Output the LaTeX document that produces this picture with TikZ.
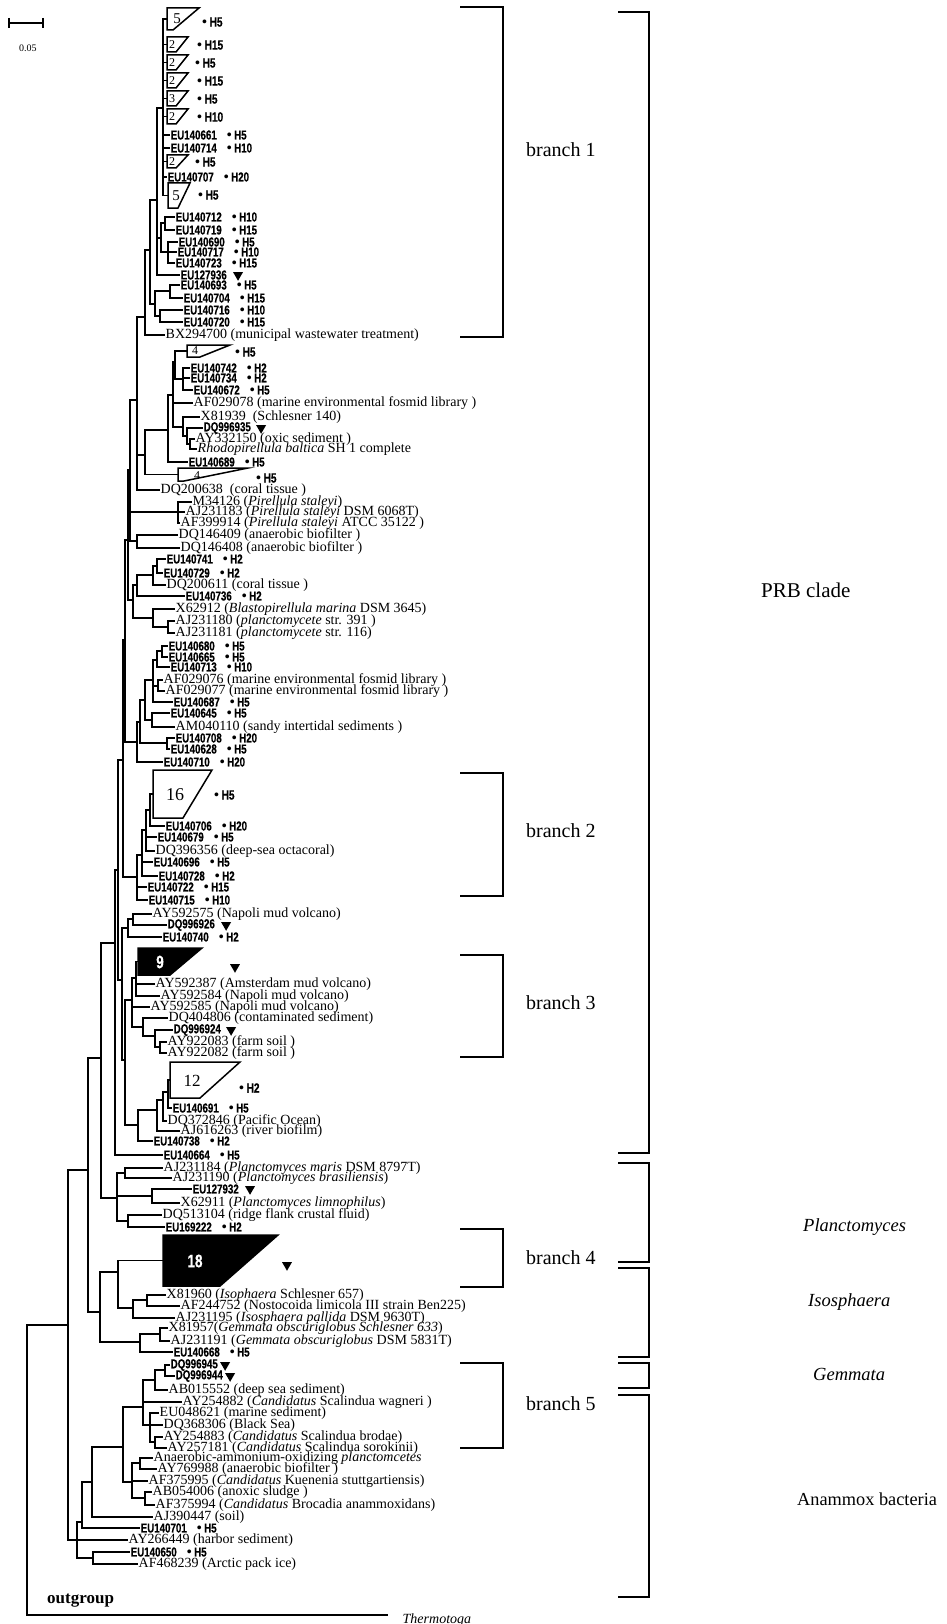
\documentclass[tikz,border=0pt]{standalone}
\usepackage{fontspec}
\setmainfont{Liberation Serif}
\newfontfamily\cnd{Liberation Sans}[FakeStretch=0.75,FakeBold=0.5]
\usetikzlibrary{positioning,shapes.geometric}

\newcommand{\hd}[1]{{\rmfamily\fontsize{14}{12}\selectfont\textbullet}\hspace{2.5pt}#1}
\newcommand{\hb}[1]{\hspace{10pt}\hd{#1}}
% collapsed clade: name, left x, top y, bottom y, top-right x, bottom-right x
\newcommand{\collapsed}[7][clade]{%
  \draw[#1] (#3,#4) -- (#6,#4) -- (#7,#5) -- (#3,#5) -- cycle;
  \coordinate (#2) at (#3,{(#4+#5)/2});}
\newcommand{\kids}[2]{\foreach \k in {#2} {\draw[br] (#1) |- (\k);}}

\begin{document}
\begin{tikzpicture}[
  x=1pt,y=-1pt,
  br/.style={line width=1.5pt},
  leaf/.style={anchor=west,inner sep=0.5pt,font=\fontsize{14}{12}\selectfont},
  eu/.style={anchor=west,inner sep=0.5pt,font=\cnd\bfseries\fontsize{13}{12}\selectfont},
  hab/.style={anchor=west,inner sep=0pt,font=\cnd\bfseries\fontsize{13.5}{12}\selectfont},
  dtri/.style={regular polygon,regular polygon sides=3,shape border rotate=180,
               fill=black,inner sep=0pt,minimum size=11.5pt},
  clade/.style={draw,line width=1.5pt},
  cladeblack/.style={clade,fill=black},
  num/.style={inner sep=0pt,font=\fontsize{15}{15}\selectfont},
  numw/.style={inner sep=0pt,text=white,font=\cnd\bfseries\fontsize{18}{18}\selectfont},
  grp/.style={anchor=west,inner sep=0pt,font=\fontsize{20}{20}\selectfont},
  grpi/.style={grp,font=\itshape\fontsize{18.5}{18}\selectfont}
]
\useasboundingbox (0,0) rectangle (946,1624);

% scale bar
\draw[br] (9,23) -- (43,23);
\draw[br] (9,18) -- (9,28);
\draw[br] (43,18) -- (43,28);
\node[font=\fontsize{10}{10}\selectfont] (scale) at (28,48) {0.05};

% branch 1
\collapsed{c5a}{167}{8}{30}{199}{173}
\node[num] (c5an) at (177,19) {5};
\node[hab] (c5ah) at (202,22) {\hd{H5}};
\collapsed{c2a}{167}{37}{52}{188}{176}
\node[num,font=\fontsize{12}{12}\selectfont] (c2an) at (172,45) {2};
\node[hab] (c2ah) at (197,45) {\hd{H15}};
\collapsed{c2b}{167}{55}{70}{188}{176}
\node[num,font=\fontsize{12}{12}\selectfont] (c2bn) at (172,63) {2};
\node[hab] (c2bh) at (195,63) {\hd{H5}};
\collapsed{c2c}{167}{73}{88}{188}{176}
\node[num,font=\fontsize{12}{12}\selectfont] (c2cn) at (172,81) {2};
\node[hab] (c2ch) at (197,81) {\hd{H15}};
\collapsed{c3}{167}{91}{106}{188}{176}
\node[num,font=\fontsize{12}{12}\selectfont] (c3n) at (172,99) {3};
\node[hab] (c3h) at (197,99) {\hd{H5}};
\collapsed{c2d}{167}{109}{124}{188}{176}
\node[num,font=\fontsize{12}{12}\selectfont] (c2dn) at (172,117) {2};
\node[hab] (c2dh) at (197,117) {\hd{H10}};
\node[eu] (eu140661) at (170,135) {EU140661\hb{H5}};
\node[eu] (eu140714) at (170,148) {EU140714\hb{H10}};
\collapsed{c2e}{167}{155}{168}{188}{176}
\node[num,font=\fontsize{12}{12}\selectfont] (c2en) at (172,162) {2};
\node[hab] (c2eh) at (195,162) {\hd{H5}};
\node[eu] (eu140707) at (167,177) {EU140707\hb{H20}};
\collapsed{c5b}{168}{183}{208}{190}{178}
\node[num] (c5bn) at (176,196) {5};
\node[hab] (c5bh) at (198,195) {\hd{H5}};
\node[eu] (eu140712) at (175,217) {EU140712\hb{H10}};
\node[eu] (eu140719) at (175,230) {EU140719\hb{H15}};
\node[eu] (eu140690) at (178,242) {EU140690\hb{H5}};
\node[eu] (eu140717) at (177,252) {EU140717\hb{H10}};
\node[eu] (eu140723) at (175,263) {EU140723\hb{H15}};
\node[eu] (eu127936) at (180,275) {EU127936};
\node[dtri,right=7pt of eu127936] (eu127936m) {};
\node[eu] (eu140693) at (180,285) {EU140693\hb{H5}};
\node[eu] (eu140704) at (183,298) {EU140704\hb{H15}};
\node[eu] (eu140716) at (183,310) {EU140716\hb{H10}};
\node[eu] (eu140720) at (183,322) {EU140720\hb{H15}};
\node[leaf] (bx294700) at (165,335) {BX294700 (municipal wastewater treatment)};

% Rhodopirellula group
\collapsed{c4a}{187}{345}{357}{230}{200}
\node[num,font=\fontsize{12}{12}\selectfont] (c4an) at (195,351) {4};
\node[hab] (c4ah) at (235,352) {\hd{H5}};
\node[eu] (eu140742) at (190,368) {EU140742\hb{H2}};
\node[eu] (eu140734) at (190,378) {EU140734\hb{H2}};
\node[eu] (eu140672) at (193,390) {EU140672\hb{H5}};
\node[leaf] (af029078) at (193,403) {AF029078 (marine environmental fosmid library )};
\node[leaf] (x81939) at (200,417) {X81939\ \ (Schlesner 140)};
\node[eu] (dq996935) at (203,428) {DQ996935};
\node[dtri,right=6pt of dq996935] (dq996935m) {};
\node[leaf] (ay332150) at (195,439) {AY332150 (oxic sediment )};
\node[leaf] (rhodo) at (197,449) {\textit{Rhodopirellula baltica} SH 1 complete};
\node[eu] (eu140689) at (188,462) {EU140689\hb{H5}};
\collapsed{c4b}{178}{468}{481}{248}{184}
\node[num,font=\fontsize{12}{12}\selectfont] (c4bn) at (197,476) {4};
\node[hab] (c4bh) at (256,478) {\hd{H5}};
\node[leaf] (dq200638) at (160,490) {DQ200638\ \ (coral tissue )};
\node[leaf] (m34126) at (192,502) {M34126 (\textit{Pirellula staleyi})};
\node[leaf] (aj231183) at (185,512) {AJ231183 (\textit{Pirellula staleyi} DSM 6068T)};
\node[leaf] (af399914) at (180,523) {AF399914 (\textit{Pirellula staleyi} ATCC 35122 )};
\node[leaf] (dq146409) at (178,535) {DQ146409 (anaerobic biofilter )};
\node[leaf] (dq146408) at (180,548) {DQ146408 (anaerobic biofilter )};
\node[eu] (eu140741) at (166,559) {EU140741\hb{H2}};
\node[eu] (eu140729) at (163,573) {EU140729\hb{H2}};
\node[leaf] (dq200611) at (166,585) {DQ200611 (coral tissue )};
\node[eu] (eu140736) at (185,596) {EU140736\hb{H2}};
\node[leaf] (x62912) at (175,609) {X62912 (\textit{Blastopirellula marina} DSM 3645)};
\node[leaf] (aj231180) at (175,621) {AJ231180 (\textit{planctomycete} str. 391 )};
\node[leaf] (aj231181) at (175,633) {AJ231181 (\textit{planctomycete} str. 116)};
\node[eu] (eu140680) at (168,646) {EU140680\hb{H5}};
\node[eu] (eu140665) at (168,657) {EU140665\hb{H5}};
\node[eu] (eu140713) at (170,667) {EU140713\hb{H10}};
\node[leaf] (af029076) at (163,680) {AF029076 (marine environmental fosmid library )};
\node[leaf] (af029077) at (165,691) {AF029077 (marine environmental fosmid library )};
\node[eu] (eu140687) at (173,702) {EU140687\hb{H5}};
\node[eu] (eu140645) at (170,713) {EU140645\hb{H5}};
\node[leaf] (am040110) at (175,727) {AM040110 (sandy intertidal sediments )};
\node[eu] (eu140708) at (175,738) {EU140708\hb{H20}};
\node[eu] (eu140628) at (170,749) {EU140628\hb{H5}};
\node[eu] (eu140710) at (163,762) {EU140710\hb{H20}};

% branch 2
\collapsed{c16}{153}{770}{818}{212}{183}
\node[num,font=\fontsize{18}{18}\selectfont] (c16n) at (175,795) {16};
\node[hab] (c16h) at (214,795) {\hd{H5}};
\node[eu] (eu140706) at (165,826) {EU140706\hb{H20}};
\node[eu] (eu140679) at (157,837) {EU140679\hb{H5}};
\node[leaf] (dq396356) at (155,851) {DQ396356 (deep-sea octacoral)};
\node[eu] (eu140696) at (153,862) {EU140696\hb{H5}};
\node[eu] (eu140728) at (158,876) {EU140728\hb{H2}};
\node[eu] (eu140722) at (147,887) {EU140722\hb{H15}};
\node[eu] (eu140715) at (148,900) {EU140715\hb{H10}};
\node[leaf] (ay592575) at (152,914) {AY592575 (Napoli mud volcano)};
\node[eu] (dq996926) at (167,925) {DQ996926};
\node[dtri,right=7pt of dq996926] (dq996926m) {};
\node[eu] (eu140740) at (162,937) {EU140740\hb{H2}};

% branch 3
\collapsed[cladeblack]{c9}{138}{948}{975}{202}{170}
\node[numw] (c9n) at (160,962) {9};
\node[dtri] (c9m) at (235,967) {};
\node[leaf] (ay592387) at (155,984) {AY592387 (Amsterdam mud volcano)};
\node[leaf] (ay592584) at (160,996) {AY592584 (Napoli mud volcano)};
\node[leaf] (ay592585) at (150,1007) {AY592585 (Napoli mud volcano)};
\node[leaf] (dq404806) at (168,1018) {DQ404806 (contaminated sediment)};
\node[eu] (dq996924) at (173,1030) {DQ996924};
\node[dtri,right=6pt of dq996924] (dq996924m) {};
\node[leaf] (ay922083) at (167,1042) {AY922083 (farm soil )};
\node[leaf] (ay922082) at (167,1053) {AY922082 (farm soil )};
\collapsed{c12}{170}{1062}{1098}{240}{200}
\node[num,font=\fontsize{17}{17}\selectfont] (c12n) at (192,1081) {12};
\node[hab] (c12h) at (239,1088) {\hd{H2}};
\node[eu] (eu140691) at (172,1108) {EU140691\hb{H5}};
\node[leaf] (dq372846) at (167,1121) {DQ372846 (Pacific Ocean)};
\node[leaf] (aj616263) at (180,1131) {AJ616263 (river biofilm)};
\node[eu] (eu140738) at (153,1141) {EU140738\hb{H2}};
\node[eu] (eu140664) at (163,1155) {EU140664\hb{H5}};

% Planctomyces, Isosphaera, Gemmata
\node[leaf] (aj231184) at (163,1168) {AJ231184 (\textit{Planctomyces maris} DSM 8797T)};
\node[leaf] (aj231190) at (172,1178) {AJ231190 (\textit{Planctomyces brasiliensis})};
\node[eu] (eu127932) at (192,1189) {EU127932};
\node[dtri,right=7pt of eu127932] (eu127932m) {};
\node[leaf] (x62911) at (180,1203) {X62911 (\textit{Planctomyces limnophilus})};
\node[leaf] (dq513104) at (162,1215) {DQ513104 (ridge flank crustal fluid)};
\node[eu] (eu169222) at (165,1227) {EU169222\hb{H2}};
\collapsed[cladeblack]{c18}{163}{1235}{1286}{278}{220}
\node[numw] (c18n) at (195,1261) {18};
\node[dtri] (c18m) at (287,1265) {};
\node[leaf] (x81960) at (166,1295) {X81960 (\textit{Isophaera} Schlesner 657)};
\node[leaf] (af244752) at (180,1306) {AF244752 (Nostocoida limicola III strain Ben225)};
\node[leaf] (aj231195) at (175,1318) {AJ231195 (\textit{Isosphaera pallida} DSM 9630T)};
\node[leaf] (x81957) at (168,1328) {X81957(\textit{Gemmata obscuriglobus Schlesner 633})};
\node[leaf] (aj231191) at (170,1341) {AJ231191 (\textit{Gemmata obscuriglobus} DSM 5831T)};
\node[eu] (eu140668) at (173,1352) {EU140668\hb{H5}};

% anammox bacteria
\node[eu] (dq996945) at (170,1365) {DQ996945};
\node[dtri,right=3pt of dq996945] (dq996945m) {};
\node[eu] (dq996944) at (175,1376) {DQ996944};
\node[dtri,right=3pt of dq996944] (dq996944m) {};
\node[leaf] (ab015552) at (168,1390) {AB015552 (deep sea sediment)};
\node[leaf] (ay254882) at (182,1402) {AY254882 (\textit{Candidatus} Scalindua wagneri )};
\node[leaf] (eu048621) at (159,1413) {EU048621 (marine sediment)};
\node[leaf] (dq368306) at (163,1425) {DQ368306 (Black Sea)};
\node[leaf] (ay254883) at (163,1437) {AY254883 (\textit{Candidatus} Scalindua brodae)};
\node[leaf] (ay257181) at (167,1448) {AY257181 (\textit{Candidatus} Scalindua sorokinii)};
\node[leaf] (anaer) at (153,1458) {Anaerobic-ammonium-oxidizing \textit{planctomcetes}};
\node[leaf] (ay769988) at (157,1469) {AY769988 (anaerobic biofilter )};
\node[leaf] (af375995) at (148,1481) {AF375995 (\textit{Candidatus} Kuenenia stuttgartiensis)};
\node[leaf] (ab054006) at (152,1492) {AB054006 (anoxic sludge )};
\node[leaf] (af375994) at (155,1505) {AF375994 (\textit{Candidatus} Brocadia anammoxidans)};
\node[leaf] (aj390447) at (153,1517) {AJ390447 (soil)};
\node[eu] (eu140701) at (140,1528) {EU140701\hb{H5}};
\node[leaf] (ay266449) at (128,1540) {AY266449 (harbor sediment)};
\node[eu] (eu140650) at (130,1552) {EU140650\hb{H5}};
\node[leaf] (af468239) at (138,1564) {AF468239 (Arctic pack ice)};

% outgroup
\coordinate (thend) at (388,1615);
\node[leaf,font=\itshape\fontsize{14}{12}\selectfont] (thermotoga) at (402,1620) {Thermotoga};
\node[anchor=west,inner sep=0pt,font=\bfseries\fontsize{17}{17}\selectfont] (outgroup) at (47,1601) {outgroup};

% internal nodes
\coordinate (b1s) at (163,108);
\coordinate (b1b) at (165,223);
\coordinate (b1c) at (168,252);
\coordinate (b1g) at (161,238);
\coordinate (b1h) at (157,200);
\coordinate (b1e) at (170,291);
\coordinate (b1f) at (160,316);
\coordinate (b1i) at (155,304);
\coordinate (b1j) at (150,250);
\coordinate (b1) at (145,317);
\coordinate (g2a) at (175,362);
\coordinate (g2b) at (183,379);
\coordinate (g2g) at (190,444);
\coordinate (g2f) at (187,436);
\coordinate (g2e) at (183,427);
\coordinate (g2d) at (173,395);
\coordinate (g2) at (168,430);
\coordinate (l2) at (145,455);
\coordinate (l1) at (137,400);
\coordinate (g5) at (178,512);
\coordinate (g6) at (137,541);
\coordinate (m1) at (130,470);
\coordinate (g7b) at (157,566);
\coordinate (g7a) at (153,575);
\coordinate (g7) at (137,585);
\coordinate (g8a) at (168,627);
\coordinate (g8) at (153,618);
\coordinate (g78) at (133,600);
\coordinate (m2) at (128,540);
\coordinate (g9a) at (162,651);
\coordinate (g9b) at (157,660);
\coordinate (g9c) at (158,686);
\coordinate (g9d) at (153,680);
\coordinate (g9e) at (152,720);
\coordinate (g9f) at (145,700);
\coordinate (g9g) at (167,743);
\coordinate (g9h) at (140,722);
\coordinate (g9) at (137,742);
\coordinate (m3) at (125,640);
\coordinate (g10a) at (150,810);
\coordinate (g10b) at (146,830);
\coordinate (g10d) at (142,855);
\coordinate (g10) at (137,877);
\coordinate (m4) at (123,760);
\coordinate (g11a) at (133,919);
\coordinate (g11) at (128,928);
\coordinate (g12a) at (136,978);
\coordinate (g12d) at (160,1047);
\coordinate (g12c) at (155,1036);
\coordinate (g12b) at (143,1027);
\coordinate (g12) at (132,1000);
\coordinate (g13c) at (168,1092);
\coordinate (g13b) at (163,1100);
\coordinate (g13a) at (157,1110);
\coordinate (g13) at (138,1125);
\coordinate (r3) at (125,1060);
\coordinate (r2) at (122,980);
\coordinate (r1) at (118,870);
\coordinate (prb) at (115,943);
\coordinate (p1) at (125,1173);
\coordinate (p2) at (152,1196);
\coordinate (p3) at (128,1221);
\coordinate (pl) at (117,1198);
\coordinate (pp) at (101,1058);
\coordinate (isb2) at (147,1300);
\coordinate (isb) at (133,1308);
\coordinate (iso) at (118,1272);
\coordinate (gema) at (160,1334);
\coordinate (gem) at (140,1342);
\coordinate (ig) at (100,1312);
\coordinate (u) at (88,1170);
\coordinate (saa) at (165,1370);
\coordinate (sa) at (155,1380);
\coordinate (sbc) at (155,1442);
\coordinate (sb) at (150,1425);
\coordinate (scal) at (143,1407);
\coordinate (br1) at (140,1463);
\coordinate (br2) at (145,1498);
\coordinate (bro) at (132,1482);
\coordinate (s0) at (123,1447);
\coordinate (a3) at (92,1482);
\coordinate (a1) at (82,1522);
\coordinate (ae) at (93,1558);
\coordinate (an) at (77,1540);
\coordinate (n1) at (68,1325);
\coordinate (root) at (27,1470);

% branches
\kids{b1s}{c5a,c2a,c2b,c2c,c3,c2d,eu140661,eu140714,c2e,eu140707,c5b}
\kids{b1b}{eu140712,eu140719}
\kids{b1c}{eu140690,eu140717,eu140723}
\kids{b1g}{b1b,b1c}
\kids{b1h}{b1s,b1g,eu127936}
\kids{b1e}{eu140693,eu140704}
\kids{b1f}{eu140716,eu140720}
\kids{b1i}{b1e,b1f}
\kids{b1j}{b1h,b1i}
\kids{b1}{b1j,bx294700}
\kids{g2b}{eu140742,eu140734,eu140672}
\kids{g2a}{c4a,g2b}
\kids{g2g}{ay332150,rhodo}
\kids{g2f}{dq996935,g2g}
\kids{g2e}{x81939,g2f}
\kids{g2d}{g2a,af029078,g2e}
\kids{g2}{g2d,eu140689}
\kids{l2}{g2,c4b}
\kids{l1}{b1,l2,dq200638}
\kids{g5}{m34126,aj231183,af399914}
\kids{g6}{dq146409,dq146408}
\kids{m1}{l1,g5,g6}
\kids{g7b}{eu140741,eu140729}
\kids{g7a}{g7b,dq200611}
\kids{g7}{g7a,eu140736}
\kids{g8a}{aj231180,aj231181}
\kids{g8}{x62912,g8a}
\kids{g78}{g7,g8}
\kids{m2}{m1,g78}
\kids{g9a}{eu140680,eu140665}
\kids{g9b}{g9a,eu140713}
\kids{g9c}{af029076,af029077}
\kids{g9d}{g9b,g9c,eu140687}
\kids{g9e}{eu140645,am040110}
\kids{g9f}{g9d,g9e}
\kids{g9g}{eu140708,eu140628}
\kids{g9h}{g9f,g9g}
\kids{g9}{g9h,eu140710}
\kids{m3}{m2,g9}
\kids{g10a}{c16,eu140706}
\kids{g10b}{g10a,eu140679,dq396356}
\kids{g10d}{g10b,eu140696,eu140728}
\kids{g10}{g10d,eu140722,eu140715}
\kids{m4}{m3,g10}
\kids{g11a}{ay592575,dq996926}
\kids{g11}{g11a,eu140740}
\kids{g12a}{c9,ay592387,ay592584}
\kids{g12d}{ay922083,ay922082}
\kids{g12c}{dq996924,g12d}
\kids{g12b}{dq404806,g12c}
\kids{g12}{g12a,ay592585,g12b}
\kids{g13c}{c12,eu140691}
\kids{g13b}{g13c,dq372846}
\kids{g13a}{g13b,aj616263}
\kids{g13}{g13a,eu140738}
\kids{r3}{g12,g13}
\kids{r2}{g11,r3}
\kids{r1}{m4,r2}
\kids{prb}{r1,eu140664}
\kids{p1}{aj231184,aj231190}
\kids{p2}{eu127932,x62911}
\kids{p3}{dq513104,eu169222}
\kids{pl}{p1,p2,p3}
\kids{pp}{prb,pl}
\kids{isb2}{x81960,af244752}
\kids{isb}{isb2,aj231195}
\kids{iso}{c18,isb}
\kids{gema}{x81957,aj231191}
\kids{gem}{gema,eu140668}
\kids{ig}{iso,gem}
\kids{u}{pp,ig}
\kids{saa}{dq996945,dq996944}
\kids{sa}{saa,ab015552}
\kids{sbc}{ay254883,ay257181}
\kids{sb}{eu048621,dq368306,sbc}
\kids{scal}{sa,ay254882,sb}
\kids{br1}{anaer,ay769988}
\kids{br2}{ab054006,af375994}
\kids{bro}{br1,af375995,br2}
\kids{s0}{scal,bro}
\kids{a3}{s0,aj390447}
\kids{a1}{a3,eu140701}
\kids{ae}{eu140650,af468239}
\kids{an}{a1,ay266449,ae}
\kids{n1}{u,an}
\kids{root}{n1,thend}

% groups on the right
\draw[br] (460,7) -- (503,7) -- (503,337) -- (460,337);
\node[grp] (branch1) at (526,150) {branch 1};
\draw[br] (460,773) -- (503,773) -- (503,896) -- (460,896);
\node[grp] (branch2) at (526,831) {branch 2};
\draw[br] (460,955) -- (503,955) -- (503,1057) -- (460,1057);
\node[grp] (branch3) at (526,1003) {branch 3};
\draw[br] (460,1229) -- (503,1229) -- (503,1287) -- (460,1287);
\node[grp] (branch4) at (526,1258) {branch 4};
\draw[br] (460,1363) -- (503,1363) -- (503,1448) -- (460,1448);
\node[grp] (branch5) at (526,1404) {branch 5};

\draw[br] (618,12) -- (649,12) -- (649,1153) -- (618,1153);
\node[grp,font=\fontsize{21}{21}\selectfont] (prbclade) at (761,590) {PRB clade};
\draw[br] (618,1163) -- (649,1163) -- (649,1262) -- (618,1262);
\node[grpi] (planct) at (803,1227) {Planctomyces};
\draw[br] (618,1268) -- (649,1268) -- (649,1357) -- (618,1357);
\node[grpi] (isosph) at (808,1302) {Isosphaera};
\draw[br] (618,1363) -- (649,1363) -- (649,1388) -- (618,1388);
\node[grpi] (gemmata) at (813,1374) {Gemmata};
\draw[br] (618,1395) -- (649,1395) -- (649,1597) -- (618,1597);
\node[grp,font=\fontsize{18.3}{18}\selectfont] (anammox) at (797,1499) {Anammox bacteria};
\end{tikzpicture}
\end{document}
